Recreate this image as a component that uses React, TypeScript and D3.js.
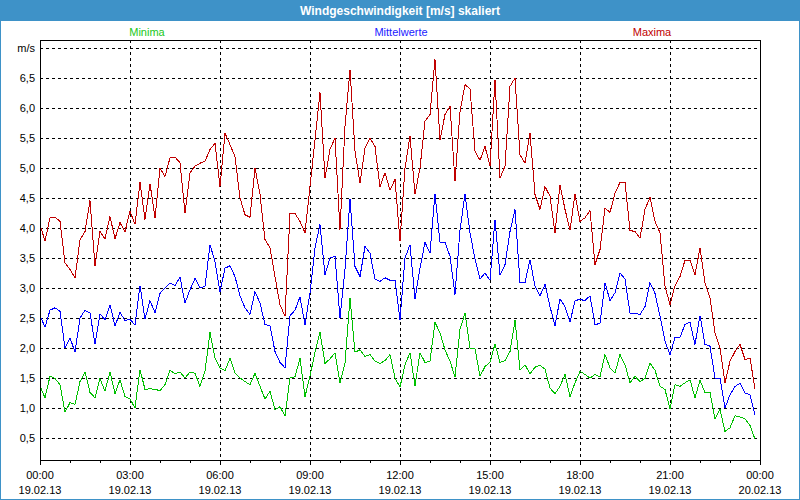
import React, { useEffect } from "react";
import * as d3 from "d3";

const title = "Windgeschwindigkeit [m/s] skaliert";
const seriesNames = ["Minima", "Mittelwerte", "Maxima"];
const seriesColors = ["#00c000", "#0000ff", "#c00000"];
const legendColors = ["#20c820", "#1a1aff", "#c00000"];

// 10-minute values, 00:00 .. 23:50 on 19.02.13
const minima = [
  1.37, 1.17, 1.53, 1.49, 1.39, 0.93, 1.09, 1.06, 1.44, 1.6,
  1.26, 1.17, 1.49, 1.28, 1.6, 1.24, 1.47, 1.19, 1.15, 1.0,
  1.64, 1.31, 1.32, 1.31, 1.29, 1.39, 1.63, 1.57, 1.6, 1.5,
  1.6, 1.58, 1.36, 1.61, 2.26, 1.83, 1.67, 1.62, 1.83, 1.58,
  1.5, 1.44, 1.39, 1.58, 1.36, 1.15, 1.28, 0.97, 1.02, 0.87,
  1.5, 1.52, 1.83, 1.19, 1.53, 1.93, 2.26, 1.74, 1.82, 1.92,
  1.42, 1.75, 2.83, 1.93, 1.97, 1.86, 1.89, 1.78, 1.74, 1.79,
  1.89, 1.5, 1.35, 1.72, 1.92, 1.37, 1.92, 1.76, 1.78, 2.43,
  2.25, 1.97, 1.78, 1.52, 2.31, 2.58, 2.0, 1.99, 1.53, 1.69,
  1.76, 2.07, 1.76, 1.79, 1.94, 2.46, 1.63, 1.72, 1.57, 1.68,
  1.71, 1.65, 1.33, 1.24, 1.36, 1.56, 1.19, 1.42, 1.61, 1.56,
  1.5, 1.56, 1.52, 1.89, 1.67, 1.58, 1.89, 1.72, 1.42, 1.53,
  1.44, 1.49, 1.75, 1.63, 1.36, 1.31, 0.98, 1.39, 1.36, 1.42,
  1.47, 1.17, 1.46, 1.26, 1.26, 0.82, 0.98, 0.61, 0.67, 0.87,
  0.85, 0.82, 0.71, 0.48,
];

const mittelwerte = [
  2.54, 2.35, 2.63, 2.67, 2.61, 2.0, 2.17, 1.93, 2.5, 2.63,
  2.58, 2.07, 2.57, 2.47, 2.72, 2.37, 2.59, 2.46, 2.48, 2.38,
  3.04, 2.48, 2.79, 2.59, 2.91, 3.0, 3.08, 3.04, 3.18, 2.75,
  2.97, 3.16, 3.0, 3.03, 3.72, 3.44, 2.94, 3.33, 3.37, 3.19,
  2.87, 2.67, 2.56, 2.94, 2.75, 2.39, 2.37, 1.94, 1.76, 1.67,
  2.54, 2.63, 2.85, 2.39, 2.92, 3.67, 4.06, 3.22, 3.5, 3.53,
  2.5, 3.31, 4.48, 3.36, 3.19, 3.69, 3.58, 3.15, 3.11, 3.17,
  3.13, 3.13, 2.47, 3.5, 3.72, 2.82, 3.33, 3.76, 3.58, 4.57,
  3.76, 3.76, 3.53, 2.89, 3.97, 4.56, 3.92, 3.48, 3.15, 3.25,
  3.13, 4.14, 3.22, 3.39, 3.94, 4.31, 3.09, 3.09, 3.47, 3.03,
  2.87, 3.06, 2.69, 2.37, 2.82, 2.69, 2.43, 2.79, 2.81, 2.79,
  2.87, 2.39, 2.41, 3.09, 2.79, 2.92, 3.25, 3.15, 2.58, 2.58,
  2.56, 2.69, 3.09, 2.91, 2.53, 2.11, 1.89, 2.18, 2.18, 2.39,
  2.43, 2.06, 2.54, 2.06, 2.03, 1.5, 1.5, 1.0, 1.22, 1.36,
  1.41, 1.25, 1.22, 0.89,
];

const maxima = [
  4.06, 3.78, 4.17, 4.18, 4.11, 3.42, 3.31, 3.17, 3.8, 3.94,
  4.46, 3.37, 3.94, 3.82, 4.19, 3.82, 4.09, 3.94, 4.28, 4.06,
  4.76, 4.14, 4.74, 4.17, 5.0, 4.86, 5.17, 5.18, 5.09, 4.25,
  4.92, 5.03, 5.08, 5.11, 5.31, 5.41, 4.69, 5.58, 5.39, 5.19,
  4.5, 4.22, 4.18, 5.0, 4.56, 3.81, 3.67, 3.19, 2.72, 2.53,
  4.24, 4.24, 4.11, 3.92, 4.69, 5.47, 6.26, 4.83, 5.31, 5.5,
  3.97, 5.7, 6.64, 5.28, 4.75, 5.33, 5.5, 5.36, 4.69, 4.92,
  4.63, 4.81, 3.78, 5.0, 5.53, 4.56, 5.0, 5.78, 5.89, 6.81,
  5.47, 5.89, 6.03, 4.78, 5.94, 6.39, 6.32, 5.28, 5.13, 5.36,
  5.03, 6.47, 4.83, 5.03, 6.36, 6.5, 5.22, 5.08, 5.58, 4.56,
  4.31, 4.69, 4.53, 3.92, 4.72, 4.31, 3.97, 4.56, 4.11, 4.17,
  4.29, 3.39, 3.64, 4.33, 4.26, 4.58, 4.76, 4.76, 3.96, 3.94,
  3.83, 4.31, 4.51, 4.11, 3.92, 3.03, 2.72, 3.04, 3.19, 3.46,
  3.46, 3.22, 3.67, 3.08, 2.83, 2.25, 2.0, 1.42, 1.78, 1.94,
  2.06, 1.81, 1.83, 1.32,
];

const timeTickHours = [0, 3, 6, 9, 12, 15, 18, 21, 24];
const timeTickLabels = ["00:00", "03:00", "06:00", "09:00", "12:00", "15:00", "18:00", "21:00", "00:00"];
const dateTickLabels = ["19.02.13", "19.02.13", "19.02.13", "19.02.13", "19.02.13", "19.02.13", "19.02.13", "19.02.13", "20.02.13"];
const yTickValues = [0.5, 1, 1.5, 2, 2.5, 3, 3.5, 4, 4.5, 5, 5.5, 6, 6.5, 7];
const yTickLabels = ["0,5", "1,0", "1,5", "2,0", "2,5", "3,0", "3,5", "4,0", "4,5", "5,0", "5,5", "6,0", "6,5", "m/s"];

const W = 800;
const H = 500;
const left = 40;
const right = 760;
const top = 40;
const bottom = 460;
const FONT = "'Liberation Sans', Arial, sans-serif";
const BAR = "#3e92c8";

export default function App() {
  useEffect(() => {
    document.body.style.margin = "0";
  }, []);

  const x = d3.scaleLinear().domain([0, 24]).range([left, right]);
  const y = d3.scaleLinear().domain([0, 7]).range([468, 48]);

  const line = d3
    .line<number>()
    .x((_, i) => x(i / 6))
    .y((d) => y(d));

  const all = [minima, mittelwerte, maxima];
  const hourTicks = d3.range(0, 25);
  const legendX = [147, 401, 652];

  return (
    <svg
      width={W}
      height={H}
      style={{ position: "absolute", left: 0, top: 0, background: "#fff" }}
      fontFamily={FONT}
    >
      <rect x={0} y={0} width={W} height={H} fill="#fff" />
      <rect x={0} y={0} width={W} height={21} fill={BAR} />
      <rect x={0.5} y={0.5} width={W - 1} height={H - 1} fill="none" stroke={BAR} />
      <text x={W / 2} y={15} textAnchor="middle" fill="#fff" fontSize={12} fontWeight="bold">
        {title}
      </text>

      {seriesNames.map((n, k) => (
        <text key={n} x={legendX[k]} y={36} textAnchor="middle" fontSize={11} fill={legendColors[k]}>
          {n}
        </text>
      ))}

      {/* horizontal grid */}
      {yTickValues.map((v) => (
        <line
          key={"h" + v}
          x1={left}
          x2={right}
          y1={Math.round(y(v)) + 0.5}
          y2={Math.round(y(v)) + 0.5}
          stroke="#000"
          strokeDasharray="3,3"
          shapeRendering="crispEdges"
        />
      ))}
      {/* vertical grid */}
      {timeTickHours.slice(1, -1).map((h) => (
        <line
          key={"v" + h}
          x1={Math.round(x(h)) + 0.5}
          x2={Math.round(x(h)) + 0.5}
          y1={top}
          y2={bottom}
          stroke="#000"
          strokeDasharray="3,3"
          shapeRendering="crispEdges"
        />
      ))}

      {/* y labels */}
      {yTickValues.map((v, k) => (
        <text key={"yl" + v} x={35} y={y(v) + 4} textAnchor="end" fontSize={11} fill="#000">
          {yTickLabels[k]}
        </text>
      ))}

      {/* series */}
      {all.map((s, k) => (
        <path
          key={"s" + k}
          d={line(s) || ""}
          fill="none"
          stroke={seriesColors[k]}
          strokeWidth={1}
          shapeRendering="crispEdges"
        />
      ))}

      {/* frame */}
      <line x1={left + 0.5} x2={left + 0.5} y1={top} y2={bottom + 1} stroke="#000" shapeRendering="crispEdges" />
      <line x1={right + 0.5} x2={right + 0.5} y1={top} y2={bottom + 1} stroke="#000" shapeRendering="crispEdges" />
      <line x1={left} x2={right + 1} y1={bottom + 0.5} y2={bottom + 0.5} stroke="#000" shapeRendering="crispEdges" />
      <line x1={left} x2={right + 1} y1={top + 0.5} y2={top + 0.5} stroke="#000" shapeRendering="crispEdges" />

      {/* x ticks */}
      {hourTicks.map((h) => (
        <line
          key={"t" + h}
          x1={Math.round(x(h)) + 0.5}
          x2={Math.round(x(h)) + 0.5}
          y1={bottom}
          y2={bottom + (h % 3 === 0 ? 5 : 3)}
          stroke="#000"
          shapeRendering="crispEdges"
        />
      ))}
      {timeTickHours.map((h, k) => (
        <g key={"xl" + h}>
          <text x={x(h)} y={479} textAnchor="middle" fontSize={11} fill="#000">
            {timeTickLabels[k]}
          </text>
          <text x={x(h)} y={494} textAnchor="middle" fontSize={11} fill="#000">
            {dateTickLabels[k]}
          </text>
        </g>
      ))}
    </svg>
  );
}
